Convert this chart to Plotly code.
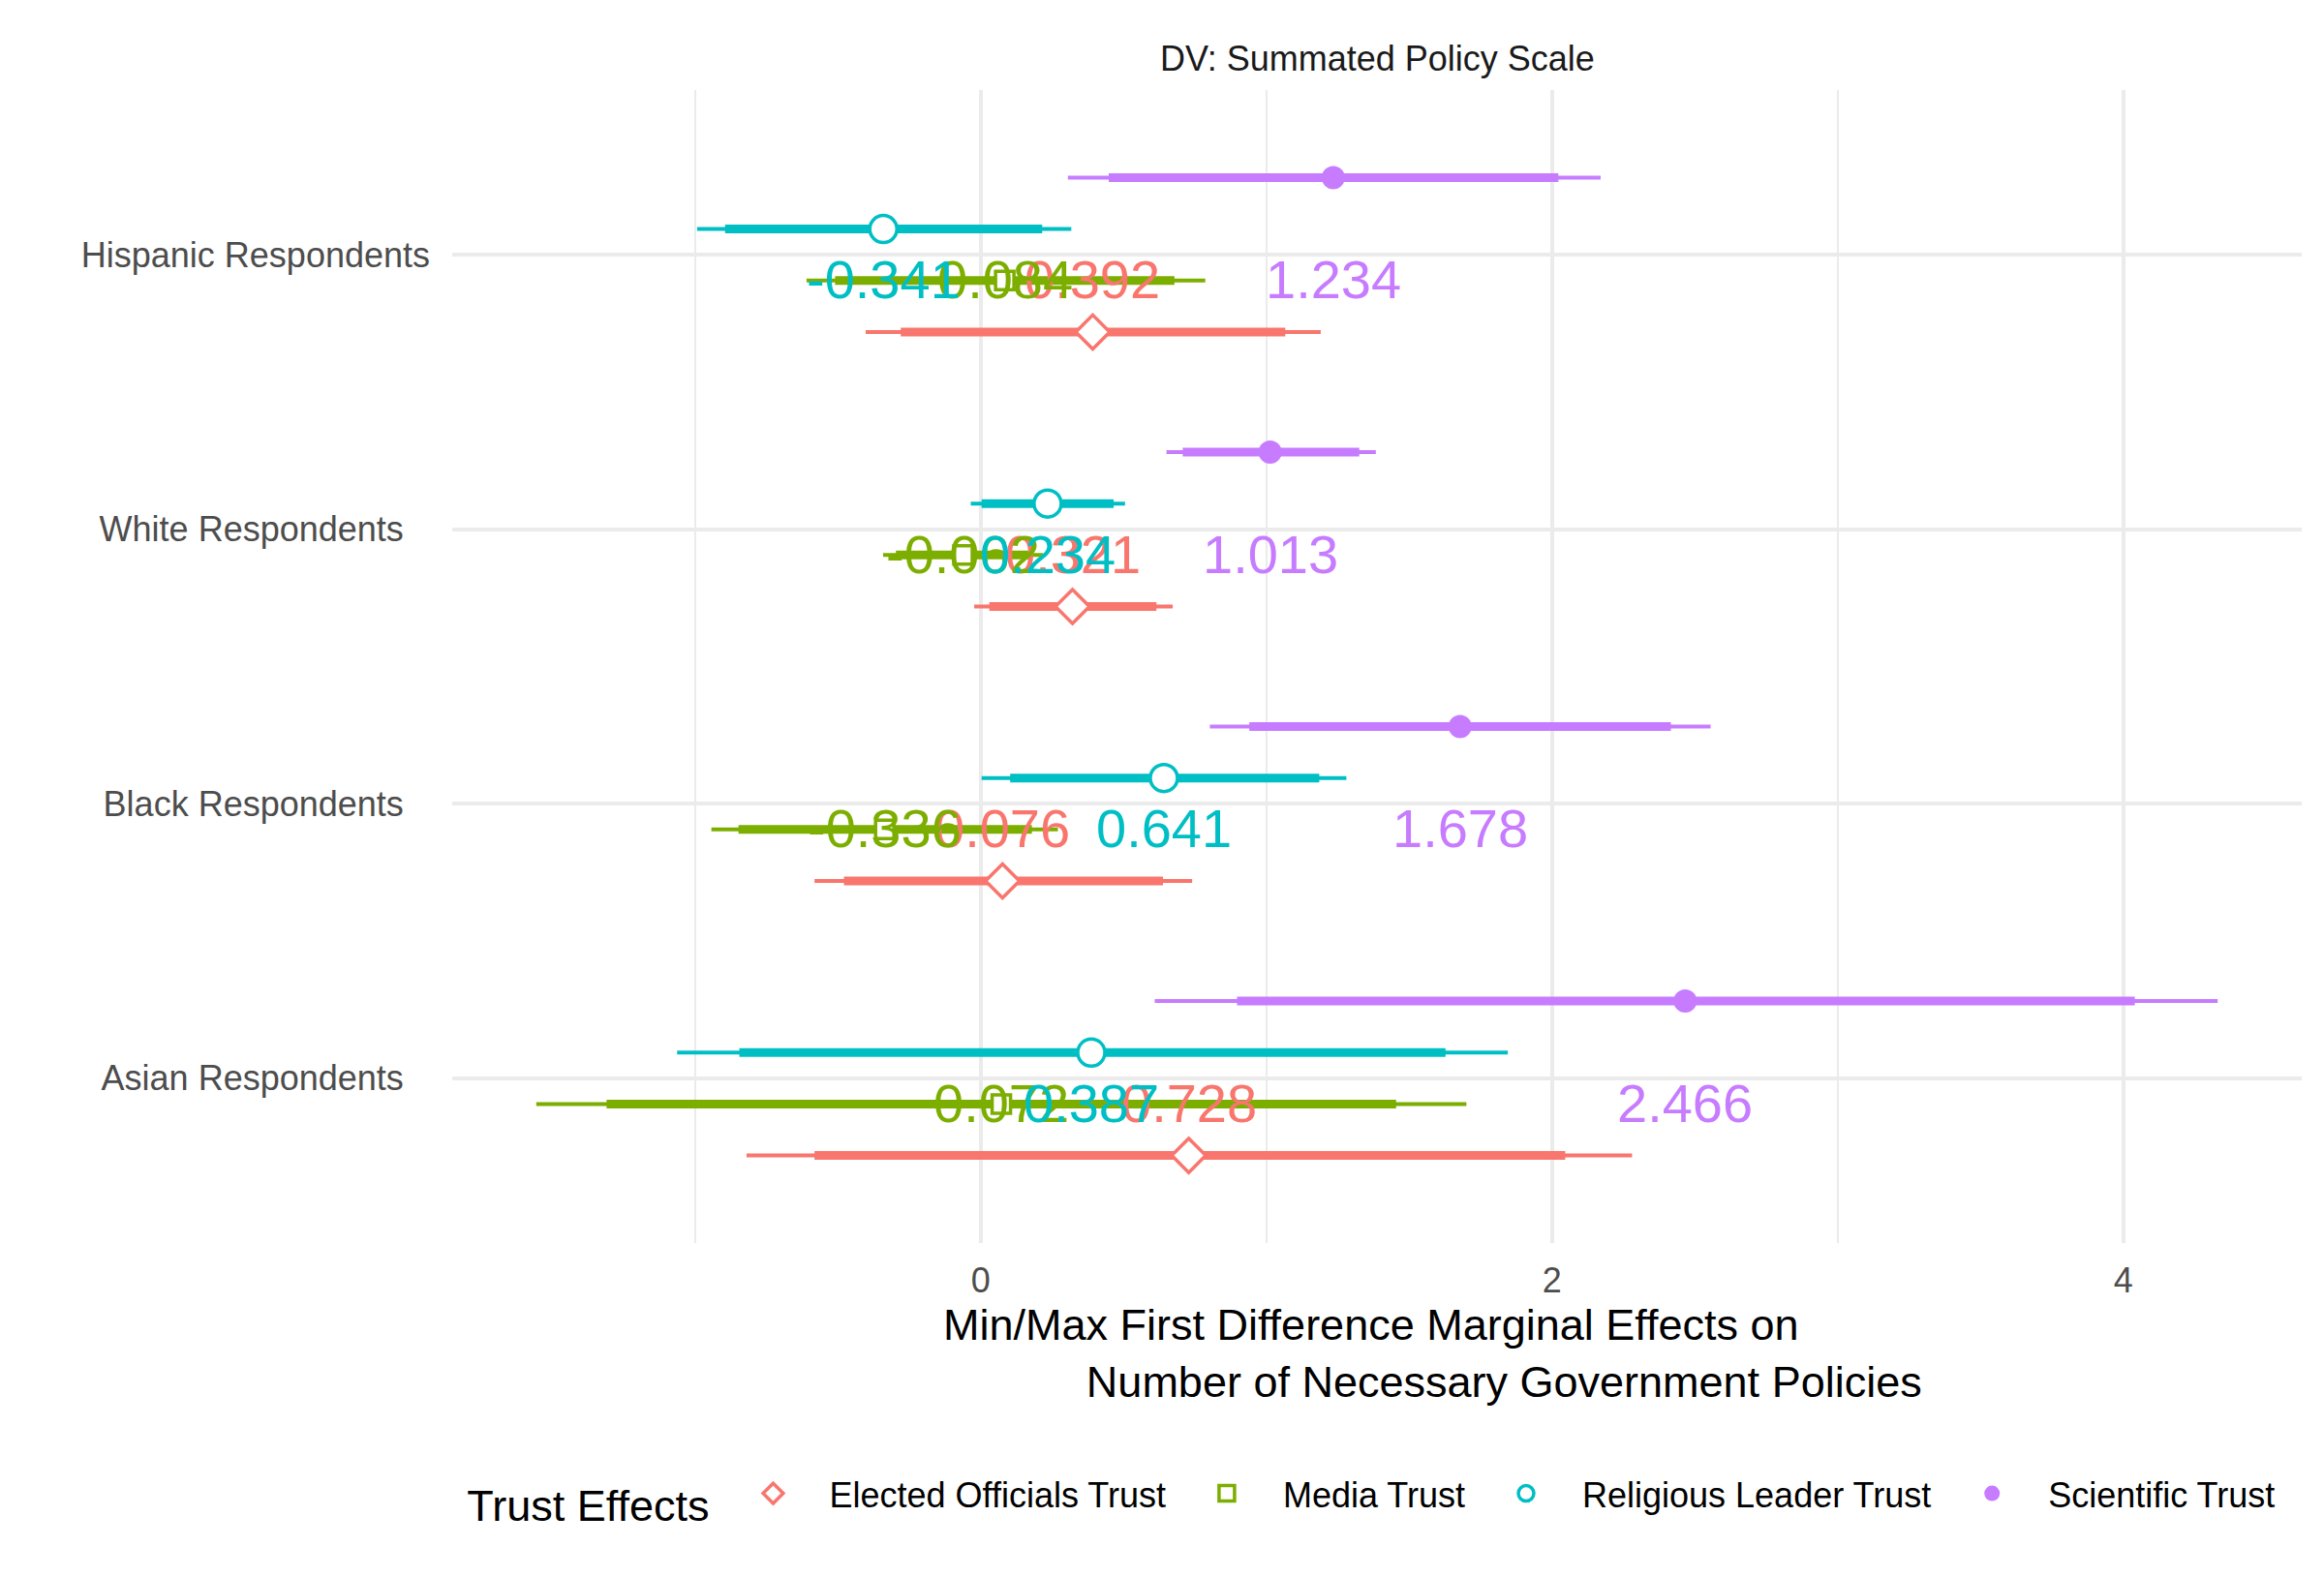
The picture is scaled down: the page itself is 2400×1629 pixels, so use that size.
import plotly.graph_objects as go

# ---------------- data ----------------
groups = ["Hispanic Respondents", "White Respondents", "Black Respondents", "Asian Respondents"]
group_pos = [4, 3, 2, 1]

series = ["Elected Officials Trust", "Media Trust", "Religious Leader Trust", "Scientific Trust"]

# estimates per series, in order of `groups`
est_elected = [0.392, 0.321, 0.076, 0.728]
est_media = [0.084, -0.062, -0.336, 0.072]
est_religious = [-0.341, 0.234, 0.641, 0.387]
est_scientific = [1.234, 1.013, 1.678, 2.466]

# 90% intervals (thick)
lo90_elected = [-0.280, 0.030, -0.479, -0.582]
hi90_elected = [1.066, 0.615, 0.638, 2.046]
lo90_media = [-0.510, -0.297, -0.848, -1.310]
hi90_media = [0.678, 0.173, 0.179, 1.454]
lo90_religious = [-0.895, 0.003, 0.103, -0.845]
hi90_religious = [0.215, 0.465, 1.185, 1.627]
lo90_scientific = [0.448, 0.707, 0.940, 0.897]
hi90_scientific = [2.022, 1.325, 2.416, 4.040]

# 95% intervals (thin)
lo95_elected = [-0.403, -0.023, -0.582, -0.820]
hi95_elected = [1.190, 0.672, 0.740, 2.280]
lo95_media = [-0.610, -0.342, -0.943, -1.556]
hi95_media = [0.786, 0.218, 0.270, 1.700]
lo95_religious = [-0.993, -0.035, 0.003, -1.063]
hi95_religious = [0.317, 0.505, 1.280, 1.845]
lo95_scientific = [0.305, 0.650, 0.802, 0.609]
hi95_scientific = [2.170, 1.383, 2.555, 4.330]

x_tick_vals = [0, 2, 4]
x_minor_vals = [-1, 1, 3]

# ---------------- styling ----------------
colors = ["#F8766D", "#7CAE00", "#00BFC4", "#C77CFF"]
symbols = ["diamond", "square", "circle", "circle"]
fills = ["white", "white", "white", None]
msizes = [27, 19, 28, 24]
offsets = [-0.28125, -0.09375, 0.09375, 0.28125]
FONT = "Liberation Sans, Arial, Helvetica, sans-serif"

# y labels are centred in ggplot; pad the shorter ones on the right
label_pad = {"Hispanic Respondents": "", "White Respondents": "\u00a0\u00a0\u2009",
             "Black Respondents": "\u00a0\u00a0\u2009", "Asian Respondents": "\u00a0\u00a0\u2009"}

est_all = [est_elected, est_media, est_religious, est_scientific]
lo90_all = [lo90_elected, lo90_media, lo90_religious, lo90_scientific]
hi90_all = [hi90_elected, hi90_media, hi90_religious, hi90_scientific]
lo95_all = [lo95_elected, lo95_media, lo95_religious, lo95_scientific]
hi95_all = [hi95_elected, hi95_media, hi95_religious, hi95_scientific]

fig = go.Figure()

for s, name in enumerate(series):
    ys = [g + offsets[s] for g in group_pos]
    # thin 95% segments
    xt, yt = [], []
    for i in range(len(groups)):
        xt += [lo95_all[s][i], hi95_all[s][i], None]
        yt += [ys[i], ys[i], None]
    fig.add_trace(go.Scatter(x=xt, y=yt, mode="lines", line=dict(color=colors[s], width=4),
                             showlegend=False, hoverinfo="skip"))
    # thick 90% segments
    xk, yk = [], []
    for i in range(len(groups)):
        xk += [lo90_all[s][i], hi90_all[s][i], None]
        yk += [ys[i], ys[i], None]
    fig.add_trace(go.Scatter(x=xk, y=yk, mode="lines", line=dict(color=colors[s], width=9),
                             showlegend=False, hoverinfo="skip"))
    # points
    fig.add_trace(go.Scatter(
        x=est_all[s], y=ys, mode="markers", showlegend=False,
        marker=dict(symbol=symbols[s], size=msizes[s],
                    color=fills[s] if fills[s] else colors[s],
                    line=dict(color=colors[s], width=3.5 if fills[s] else 0))))

# legend-only traces
for s, name in enumerate(series):
    fig.add_trace(go.Scatter(
        x=[None], y=[None], mode="markers", name=name,
        marker=dict(symbol=symbols[s], size=min(msizes[s], 22),
                    color=fills[s] if fills[s] else colors[s],
                    line=dict(color=colors[s], width=3.5 if fills[s] else 0))))

# value labels (placed at the category position, centred on the estimate)
for s in range(len(series)):
    for i in range(len(groups)):
        v = est_all[s][i]
        fig.add_annotation(x=v, y=group_pos[i], xref="x", yref="y",
                           text=f"{v:.3f}", showarrow=False,
                           xanchor="center", yanchor="top", yshift=8,
                           font=dict(family=FONT, size=56, color=colors[s]))

# dashed zero line
fig.add_shape(type="line", x0=0, x1=0, xref="x", y0=0, y1=1, yref="paper",
              line=dict(color="#7F7F7F", width=3, dash="24px,18px"), layer="below")

# facet strip title
fig.add_annotation(text="DV: Summated Policy Scale", xref="paper", yref="paper",
                   x=0.5, y=1, yanchor="middle", yshift=33, showarrow=False,
                   font=dict(family=FONT, size=36, color="#1A1A1A"))

lo_all = min(min(v) for v in lo95_all)
hi_all = max(max(v) for v in hi95_all)
pad = 0.05 * (hi_all - lo_all)

title_x = ("Min/Max First Difference Marginal Effects on\u00a0<br>"
           + "\u00a0" * 21 + "Number of Necessary Government Policies")

fig.update_layout(
    width=2400, height=1629,
    paper_bgcolor="white", plot_bgcolor="white",
    margin=dict(l=467, r=23, t=93, b=345),
    font=dict(family=FONT, color="#000000"),
    xaxis=dict(range=[lo_all - pad, hi_all + pad], tickvals=x_tick_vals,
               ticktext=[str(v) for v in x_tick_vals],
               showgrid=True, gridcolor="#EBEBEB", gridwidth=4, zeroline=False,
               showline=False, ticks="", ticklabelstandoff=14,
               tickfont=dict(family=FONT, size=36, color="#4D4D4D"),
               minor=dict(tickvals=x_minor_vals, showgrid=True, gridcolor="#EBEBEB", gridwidth=2, ticks=""),
               title=dict(text=title_x, standoff=2,
                          font=dict(family=FONT, size=45, color="#000000"))),
    yaxis=dict(range=[0.4, 4.6], tickvals=group_pos,
               ticktext=[g + label_pad[g] for g in groups],
               showgrid=True, gridcolor="#EBEBEB", gridwidth=4, zeroline=False,
               showline=False, ticks="", ticklabelstandoff=22,
               tickfont=dict(family=FONT, size=36, color="#4D4D4D")),
    legend=dict(orientation="h", x=0.007, xanchor="left", y=-0.221, yanchor="middle",
                title=dict(text="Trust Effects", font=dict(family=FONT, size=45, color="#000000"),
                           side="left"),
                font=dict(family=FONT, size=36, color="#000000"),
                bgcolor="rgba(0,0,0,0)", itemwidth=106),
)

fig.write_html("out.html")
